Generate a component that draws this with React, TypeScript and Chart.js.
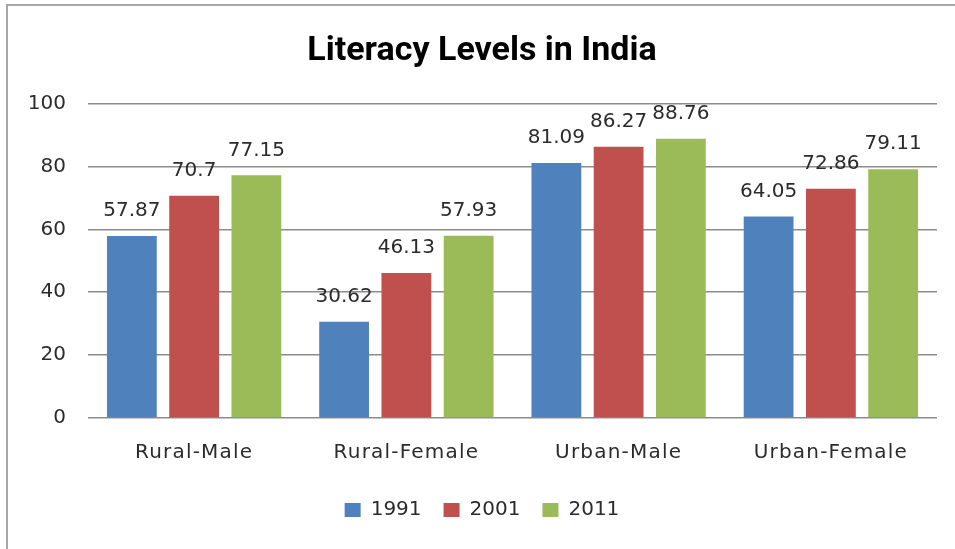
import React, { useEffect, useRef } from "react";
import { Chart, registerables } from "chart.js";

Chart.register(...registerables);

const categories = ["Rural-Male", "Rural-Female", "Urban-Male", "Urban-Female"];
const seriesNames = ["1991", "2001", "2011"];
const values1991 = [57.87, 30.62, 81.09, 64.05];
const values2001 = [70.7, 46.13, 86.27, 72.86];
const values2011 = [77.15, 57.93, 88.76, 79.11];
const seriesColors = ["#4F81BD", "#C0504D", "#9BBB59"];
const yTicks = [0, 20, 40, 60, 80, 100];
const chartTitle = "Literacy Levels in India";

const TEXT = "#2b2b2b";
const FONT = "'DejaVu Sans', sans-serif";

const framePlugin = {
  id: "frame",
  beforeDraw(chart: any) {
    const ctx = chart.ctx;
    ctx.save();
    ctx.fillStyle = "#ffffff";
    ctx.fillRect(0, 0, chart.width, chart.height);
    ctx.strokeStyle = "#a6a6a6";
    ctx.lineWidth = 2;
    ctx.beginPath();
    ctx.moveTo(7, chart.height);
    ctx.lineTo(7, 5);
    ctx.lineTo(chart.width, 5);
    ctx.stroke();
    ctx.restore();
  },
  afterLayout(chart: any) {
    const xs = chart.scales.x;
    if (xs && !xs._lsPatched) {
      const orig = xs.drawLabels.bind(xs);
      xs.drawLabels = (area: any) => {
        const c = chart.ctx;
        c.save();
        c.letterSpacing = "1.2px";
        orig(area);
        c.restore();
      };
      xs._lsPatched = true;
    }
  },
};

const valueLabelPlugin = {
  id: "valueLabels",
  afterDatasetsDraw(chart: any) {
    const ctx = chart.ctx;
    ctx.save();
    ctx.font = `20px ${FONT}`;
    ctx.fillStyle = TEXT;
    ctx.textAlign = "center";
    ctx.textBaseline = "middle";
    chart.data.datasets.forEach((ds: any, i: number) => {
      const meta = chart.getDatasetMeta(i);
      meta.data.forEach((bar: any, j: number) => {
        ctx.fillText(String(ds.data[j]), bar.x, bar.y - 25);
      });
    });
    ctx.restore();
  },
};

export default function App() {
  const ref = useRef<HTMLCanvasElement | null>(null);

  useEffect(() => {
    if (!ref.current) return;
    const all = [values1991, values2001, values2011];
    const chart = new Chart(ref.current, {
      type: "bar",
      data: {
        labels: categories,
        datasets: seriesNames.map((name, i) => ({
          label: name,
          data: all[i],
          backgroundColor: seriesColors[i],
          borderWidth: 0,
          categoryPercentage: 0.88,
          barPercentage: 0.8,
        })),
      },
      options: {
        responsive: false,
        animation: false,
        devicePixelRatio: 1,
        layout: { padding: { left: 27, right: 18, top: 0, bottom: 19 } },
        plugins: {
          title: {
            display: true,
            text: chartTitle,
            color: "#000000",
            font: { family: "Roboto, sans-serif", size: 34, weight: "bold" },
            padding: { top: 31, bottom: 31.7 },
          },
          legend: {
            display: true,
            position: "bottom",
            labels: {
              boxWidth: 16,
              boxHeight: 14,
              padding: 22,
              color: TEXT,
              font: { family: FONT, size: 20 },
            },
          },
          tooltip: { enabled: false },
        },
        scales: {
          x: {
            grid: { display: false, drawTicks: false },
            border: { display: false },
            ticks: { color: TEXT, font: { family: FONT, size: 20 }, padding: 23, maxRotation: 0 },
            afterFit(scale: any) {
              scale.height = 60;
            },
          },
          y: {
            min: 0,
            max: 100,
            afterBuildTicks(scale: any) {
              scale.ticks = yTicks.map((v) => ({ value: v }));
            },
            grid: { color: "#8c8c8c", lineWidth: 1.5, drawTicks: false },
            border: { display: false },
            ticks: { color: TEXT, font: { family: FONT, size: 20 }, padding: 22 },
            afterFit(scale: any) {
              scale.width = 61;
            },
          },
        },
      },
      plugins: [framePlugin, valueLabelPlugin],
    });
    return () => chart.destroy();
  }, []);

  return (
    <div style={{ position: "absolute", left: 0, top: 0, width: 955, height: 549 }}>
      <canvas ref={ref} width={955} height={549} style={{ display: "block" }} />
    </div>
  );
}
